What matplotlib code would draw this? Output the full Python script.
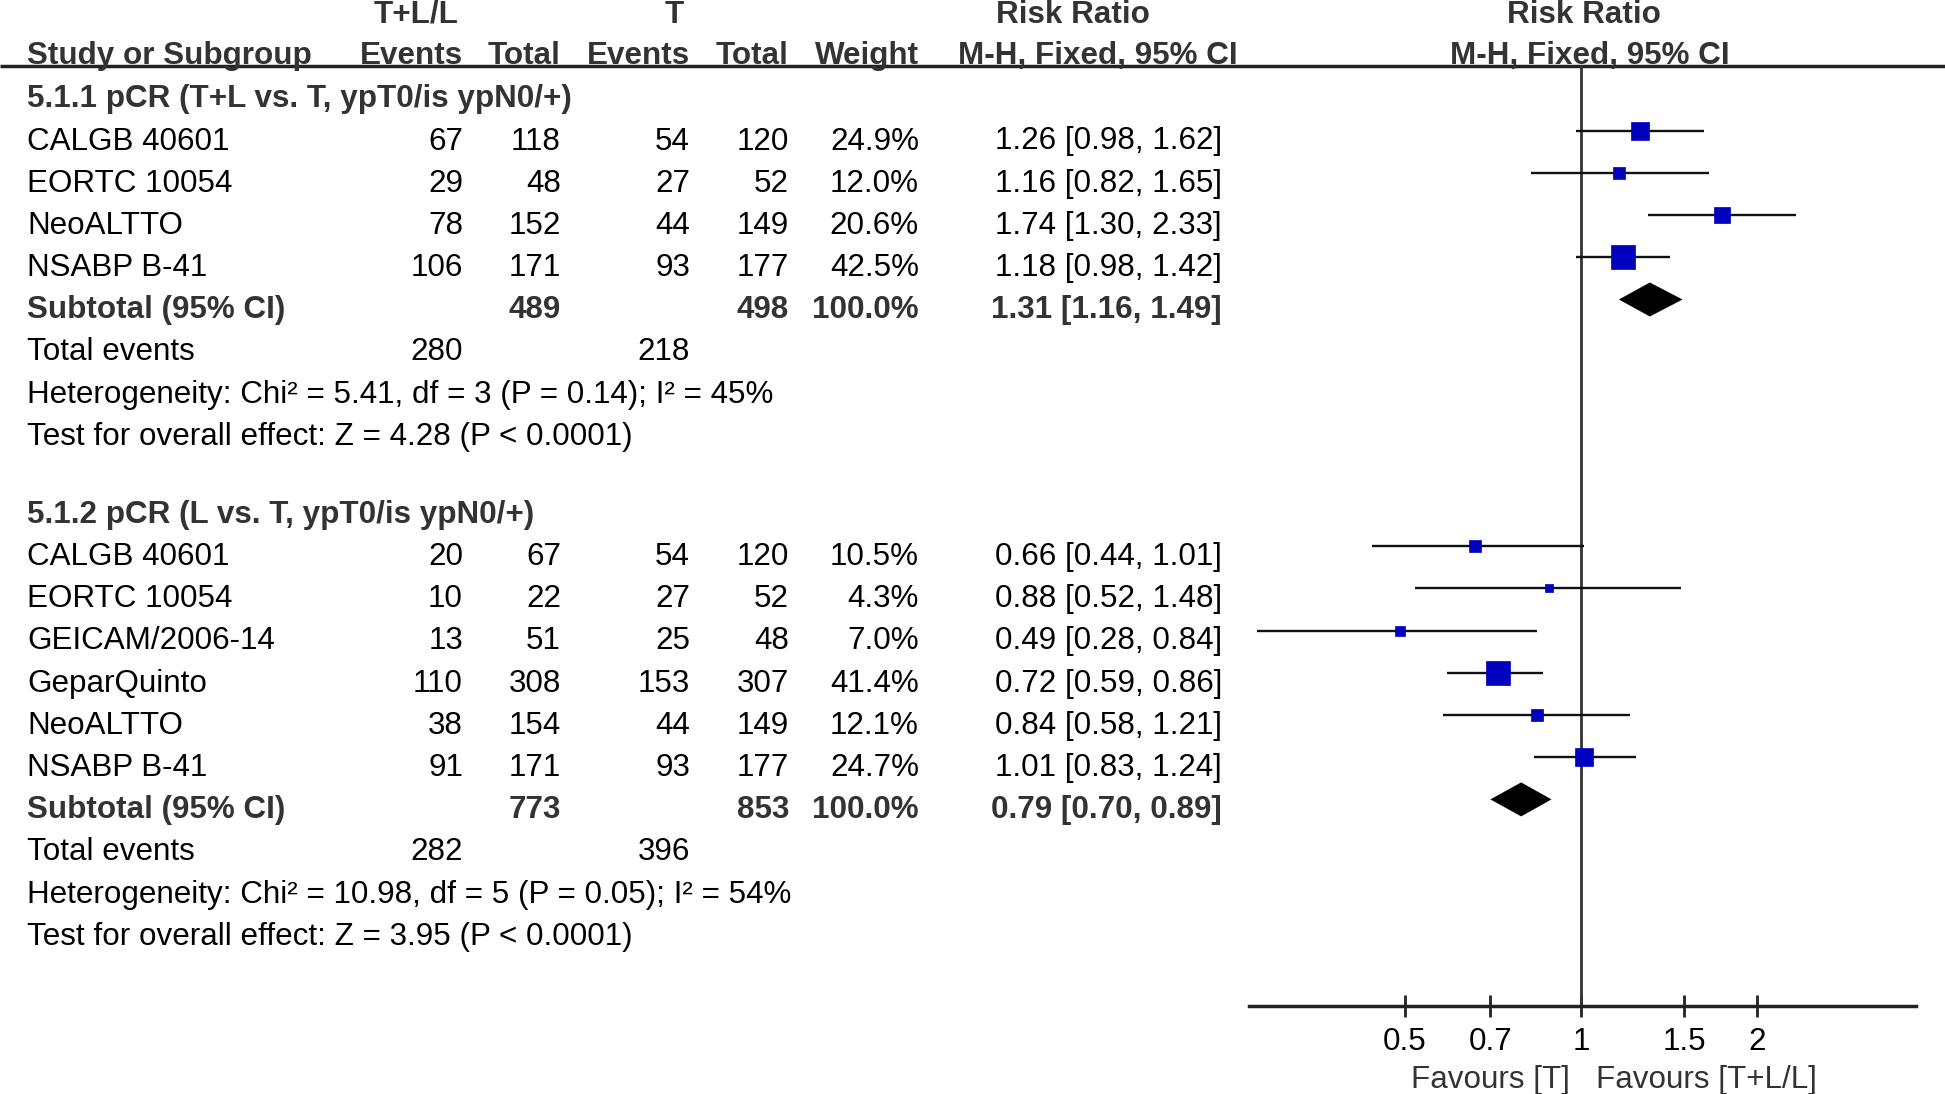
import matplotlib
matplotlib.use("Agg")
import matplotlib.pyplot as plt
from matplotlib.ticker import NullLocator
import numpy as np

plt.rcParams['font.family'] = ['Liberation Sans', 'DejaVu Sans']

# 5.1.1  T+L vs T
g1_title = "5.1.1 pCR (T+L vs. T, ypT0/is ypN0/+)"
g1_study = ["CALGB 40601", "EORTC 10054", "NeoALTTO", "NSABP B-41"]
g1_ev_a = [67, 29, 78, 106]
g1_tot_a = [118, 48, 152, 171]
g1_ev_b = [54, 27, 44, 93]
g1_tot_b = [120, 52, 149, 177]
g1_weight = [24.9, 12.0, 20.6, 42.5]
g1_rr = [1.26, 1.16, 1.74, 1.18]
g1_lo = [0.98, 0.82, 1.30, 0.98]
g1_hi = [1.62, 1.65, 2.33, 1.42]
g1_pool = (1.31, 1.16, 1.49)
g1_het = "Heterogeneity: Chi\u00b2 = 5.41, df = 3 (P = 0.14); I\u00b2 = 45%"
g1_test = "Test for overall effect: Z = 4.28 (P < 0.0001)"

# 5.1.2  L vs T
g2_title = "5.1.2 pCR (L vs. T, ypT0/is ypN0/+)"
g2_study = ["CALGB 40601", "EORTC 10054", "GEICAM/2006-14", "GeparQuinto",
            "NeoALTTO", "NSABP B-41"]
g2_ev_a = [20, 10, 13, 110, 38, 91]
g2_tot_a = [67, 22, 51, 308, 154, 171]
g2_ev_b = [54, 27, 25, 153, 44, 93]
g2_tot_b = [120, 52, 48, 307, 149, 177]
g2_weight = [10.5, 4.3, 7.0, 41.4, 12.1, 24.7]
g2_rr = [0.66, 0.88, 0.49, 0.72, 0.84, 1.01]
g2_lo = [0.44, 0.52, 0.28, 0.59, 0.58, 0.83]
g2_hi = [1.01, 1.48, 0.84, 0.86, 1.21, 1.24]
g2_pool = (0.79, 0.70, 0.89)
g2_het = "Heterogeneity: Chi\u00b2 = 10.98, df = 5 (P = 0.05); I\u00b2 = 54%"
g2_test = "Test for overall effect: Z = 3.95 (P < 0.0001)"

ticks = [0.5, 0.7, 1, 1.5, 2]
tick_labels = ["0.5", "0.7", "1", "1.5", "2"]

W, H = 1945, 1094
fig = plt.figure(figsize=(W / 100, H / 100), dpi=100)
ax = fig.add_axes([0, 0, 1, 1])
ax.set_xlim(0, W)
ax.set_ylim(H, 0)
ax.axis('off')

FS = 22.6
ROW = 42.2
CAP = 10.8      # half cap height (px): text baseline sits this far below row centre
OFF = 8         # marks sit a bit above the text centre
DARK = '#333333'
BLUE = '#0000BE'
X_NAME, X_EVA, X_TOTA, X_EVB, X_TOTB, X_WT, X_CI = 27, 463, 561, 690, 789, 919, 1222


def txt(x, y, s, ha='left', bold=False, color='black'):
    ax.text(x, y + CAP, s, ha=ha, va='baseline', fontsize=FS,
            fontweight='bold' if bold else 'normal', color=color)


# header
txt(416, 12, "T+L/L", ha='center', bold=True, color=DARK)
txt(674, 12, "T", ha='center', bold=True, color=DARK)
txt(1073, 12, "Risk Ratio", ha='center', bold=True, color=DARK)
txt(1584, 12, "Risk Ratio", ha='center', bold=True, color=DARK)
txt(X_NAME, 53, "Study or Subgroup", bold=True, color=DARK)
for x, s in [(X_EVA, "Events"), (X_TOTA, "Total"), (X_EVB, "Events"),
             (X_TOTB, "Total"), (X_WT, "Weight")]:
    txt(x, 53, s, ha='right', bold=True, color=DARK)
txt(1098, 53, "M-H, Fixed, 95% CI", ha='center', bold=True, color=DARK)
txt(1590, 53, "M-H, Fixed, 95% CI", ha='center', bold=True, color=DARK)
ax.plot([0, W], [66, 66], color='#222222', lw=2.5, solid_capstyle='butt')

# forest panel
fx = fig.add_axes([1249 / W, 0, (1916 - 1249) / W, 1])
fx.set_xscale('log')
fx.set_xlim(0.271, 3.73)
fx.set_ylim(H, 0)
fx.patch.set_visible(False)
for s in ['top', 'left', 'right']:
    fx.spines[s].set_visible(False)
fx.spines['bottom'].set_position(('data', 1006))
fx.spines['bottom'].set_linewidth(2.5)
fx.spines['bottom'].set_color('#222222')
fx.set_xticks(ticks)
fx.set_xticklabels(tick_labels)
fx.xaxis.set_minor_locator(NullLocator())
fx.tick_params(axis='x', direction='inout', length=16, width=2,
               colors='#222222', labelcolor='black', labelsize=FS, pad=7)
fx.set_yticks([])
fx.plot([1, 1], [66, 1006], color='#333333', lw=2.0)


def group(top, title, study, ev_a, tot_a, ev_b, tot_b, weight, rr, lo, hi,
          pool, het, test):
    ys = top + ROW * np.arange(len(study) + 5)
    txt(X_NAME, ys[0], title, bold=True, color=DARK)
    for i, name in enumerate(study):
        y = ys[i + 1]
        txt(X_NAME, y, name)
        txt(X_EVA, y, str(ev_a[i]), ha='right')
        txt(X_TOTA, y, str(tot_a[i]), ha='right')
        txt(X_EVB, y, str(ev_b[i]), ha='right')
        txt(X_TOTB, y, str(tot_b[i]), ha='right')
        txt(X_WT, y, f"{weight[i]:.1f}%", ha='right')
        txt(X_CI, y, f"{rr[i]:.2f} [{lo[i]:.2f}, {hi[i]:.2f}]", ha='right')
        fx.plot([lo[i], hi[i]], [y - OFF, y - OFF], color='#111111', lw=1.7,
                solid_capstyle='butt')
        # square side grows with the study weight (px -> pt)
        side = (3.5 * np.sqrt(weight[i]) + 0.8) * 0.72
        fx.plot(rr[i], y - OFF, marker='s', ms=side, color=BLUE, mec=BLUE,
                mew=0.5)
    n = len(study)
    y = ys[n + 1]
    txt(X_NAME, y, "Subtotal (95% CI)", bold=True, color=DARK)
    txt(X_TOTA, y, str(sum(tot_a)), ha='right', bold=True, color=DARK)
    txt(X_TOTB, y, str(sum(tot_b)), ha='right', bold=True, color=DARK)
    txt(X_WT, y, f"{sum(weight):.1f}%", ha='right', bold=True, color=DARK)
    txt(X_CI, y, f"{pool[0]:.2f} [{pool[1]:.2f}, {pool[2]:.2f}]", ha='right',
        bold=True, color=DARK)
    yd = y - OFF
    fx.fill([pool[1], pool[0], pool[2], pool[0]], [yd, yd - 17, yd, yd + 17],
            color='black', lw=0)
    y = ys[n + 2]
    txt(X_NAME, y, "Total events")
    txt(X_EVA, y, str(sum(ev_a)), ha='right')
    txt(X_EVB, y, str(sum(ev_b)), ha='right')
    txt(X_NAME, ys[n + 3], het)
    txt(X_NAME, ys[n + 4], test)


group(96.5, g1_title, g1_study, g1_ev_a, g1_tot_a, g1_ev_b, g1_tot_b,
      g1_weight, g1_rr, g1_lo, g1_hi, g1_pool, g1_het, g1_test)
group(512, g2_title, g2_study, g2_ev_a, g2_tot_a, g2_ev_b, g2_tot_b,
      g2_weight, g2_rr, g2_lo, g2_hi, g2_pool, g2_het, g2_test)

txt(1570, 1077, "Favours [T]", ha='right', color=DARK)
txt(1596, 1077, "Favours [T+L/L]", color=DARK)

fig.savefig("out.png", dpi=100)
